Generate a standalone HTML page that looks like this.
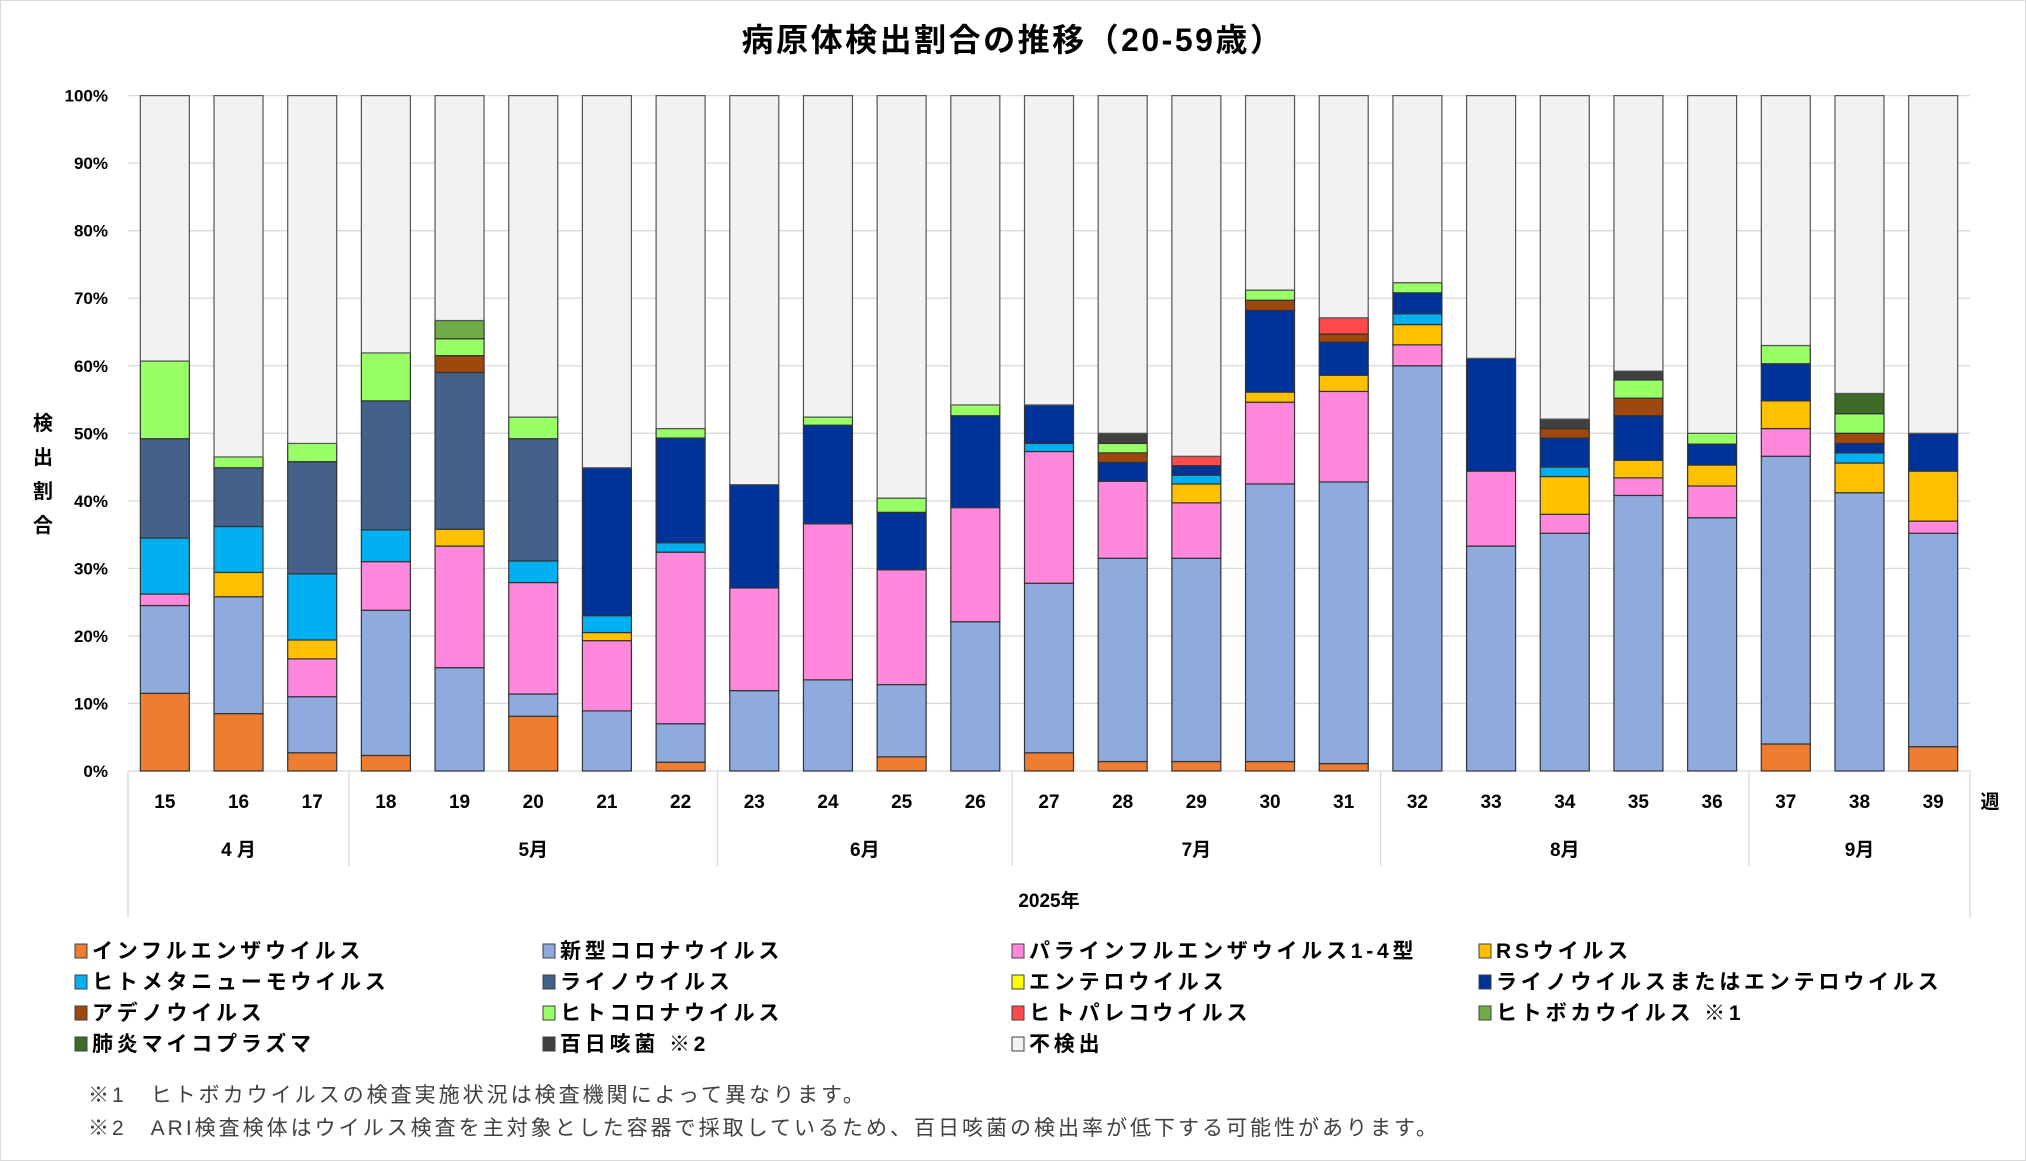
<!DOCTYPE html>
<html><head><meta charset="utf-8">
<style>
html,body{margin:0;padding:0;background:#fff;}
svg{display:block;font-family:"Liberation Sans","Noto Sans CJK JP",sans-serif;}
</style></head><body>
<svg id="c" width="2026" height="1161" viewBox="0 0 2026 1161" xmlns="http://www.w3.org/2000/svg">
<rect x="0.5" y="0.5" width="2025" height="1160" fill="#fff" stroke="#d9d9d9"/>
<text x="1013" y="51" font-size="32" font-weight="bold" text-anchor="middle" letter-spacing="2.5" fill="#000">病原体検出割合の推移（20-59歳）</text>
<g font-size="20" font-weight="bold" fill="#000" text-anchor="middle">
<text x="43" y="430">検</text><text x="43" y="464">出</text><text x="43" y="498">割</text><text x="43" y="532">合</text>
</g>
<g id="g"></g>
</svg>
<script>
const S="http://www.w3.org/2000/svg",g=document.getElementById('g');
function el(t,a,txt){const e=document.createElementNS(S,t);for(const k in a)e.setAttribute(k,a[k]);if(txt!==undefined)e.textContent=txt;g.appendChild(e);return e;}
const L=128,R=1970,T=95.6,B=771,H=B-T,cw=(R-L)/25,bw=49;
for(let i=0;i<=10;i++){const y=B-H*i/10;el('line',{x1:L,x2:R,y1:y,y2:y,stroke:'#d9d9d9','stroke-width':1.3});
el('text',{x:108,y:y+6,'font-size':17,'font-weight':'bold','text-anchor':'end'},i*10+'%');}
const C=['#ED7D31','#8FAADC','#FF88DD','#FFC000','#00B0F0','#44618B','#FFFF00','#003399','#9E480E','#99FF66','#FF4B4B','#70AD47','#3E6B2A','#404040'];
const D={15:{0:11.5,1:24.5,2:26.2,4:34.5,5:49.2,9:60.7},16:{0:8.5,1:25.8,3:29.4,4:36.2,5:44.9,9:46.5},17:{0:2.7,1:11,2:16.6,3:19.4,4:29.2,5:45.8,9:48.5},
18:{0:2.3,1:23.8,2:31,4:35.7,5:54.8,9:61.9},19:{1:15.3,2:33.3,3:35.8,5:59,8:61.5,9:64,11:66.7},20:{0:8.1,1:11.4,2:27.9,4:31.1,5:49.2,9:52.4},
21:{1:8.9,2:19.3,3:20.5,4:23,7:44.9},22:{0:1.3,1:7,2:32.4,4:33.8,7:49.3,9:50.7},23:{1:11.9,2:27.1,7:42.4},24:{1:13.5,2:36.6,7:51.2,9:52.4},
25:{0:2.1,1:12.8,2:29.8,7:38.3,9:40.4},26:{1:22.1,2:39,7:52.6,9:54.2},27:{0:2.7,1:27.8,2:47.3,4:48.5,7:54.2},
28:{0:1.4,1:31.5,2:42.9,7:45.7,8:47.1,9:48.5,13:50},29:{0:1.4,1:31.5,2:39.7,3:42.5,4:43.8,7:45.2,10:46.6},
30:{0:1.4,1:42.5,2:54.6,3:56.1,7:68.2,8:69.7,9:71.2},31:{0:1.1,1:42.8,2:56.2,3:58.6,7:63.5,8:64.7,10:67.1},
32:{1:60,2:63.1,3:66.1,4:67.7,7:70.8,9:72.3},33:{1:33.3,2:44.4,7:61.1},34:{1:35.2,2:38,3:43.6,4:45,7:49.3,8:50.7,13:52.1},
35:{1:40.8,2:43.4,3:46,7:52.6,8:55.2,9:57.9,13:59.2},36:{1:37.5,2:42.2,3:45.3,7:48.4,9:50},37:{0:4,1:46.6,2:50.7,3:54.8,7:60.3,9:63},
38:{1:41.2,3:45.6,4:47.1,7:48.5,8:50,9:52.9,12:55.9},39:{0:3.6,1:35.2,2:37,3:44.4,7:50}};
const yv=v=>B-H*v/100;
for(let w=15;w<=39;w++){const i=w-15,cx=L+cw*(i+.5),x=cx-bw/2;let prev=0;
 const d=D[w];Object.keys(d).map(Number).sort((a,b)=>a-b).forEach(k=>{const v=d[k];
  el('rect',{x:x,y:yv(v),width:bw,height:yv(prev)-yv(v),fill:C[k],stroke:'#333','stroke-width':1.2});prev=v;});
 el('rect',{x:x,y:T,width:bw,height:yv(prev)-T,fill:'#F2F2F2',stroke:'#555','stroke-width':1.2});
 el('text',{x:cx,y:808,'font-size':19,'font-weight':'bold','text-anchor':'middle'},w);}
el('text',{x:1990,y:808,'font-size':19,'font-weight':'bold','text-anchor':'middle'},'週');
[0,3,8,12,17,22,25].forEach(i=>{const x=L+cw*i;const outer=(i==0||i==25);el('line',{x1:x,x2:x,y1:B,y2:outer?918:866,stroke:'#d9d9d9','stroke-width':1.3});});
const M=[['4 月',0,3],['5月',3,8],['6月',8,12],['7月',12,17],['8月',17,22],['9月',22,25]];
M.forEach(m=>el('text',{x:L+cw*(m[1]+m[2])/2,y:856,'font-size':19,'font-weight':'bold','text-anchor':'middle'},m[0]));
el('text',{x:1049,y:907,'font-size':19,'font-weight':'bold','text-anchor':'middle'},'2025年');
const LG=[['インフルエンザウイルス',0],['新型コロナウイルス',1],['パラインフルエンザウイルス1-4型',2],['RSウイルス',3],
['ヒトメタニューモウイルス',4],['ライノウイルス',5],['エンテロウイルス',6],['ライノウイルスまたはエンテロウイルス',7],
['アデノウイルス',8],['ヒトコロナウイルス',9],['ヒトパレコウイルス',10],['ヒトボカウイルス ※1',11],
['肺炎マイコプラズマ',12],['百日咳菌 ※2',13],['不検出',14]];
const cols=[75,543,1012,1479],rows=[958,989,1020,1051];
LG.forEach((l,i)=>{const x=cols[i%4],y=rows[Math.floor(i/4)];
 el('rect',{x:x,y:y-14,width:12,height:14,fill:l[1]==14?'#F2F2F2':C[l[1]],stroke:'#404040','stroke-width':1});
 el('text',{x:x+17,y:y,'font-size':21,'font-weight':'bold','letter-spacing':'3.8'},l[0]);});
el('text',{x:88,y:1102,'font-size':21,fill:'#404040','letter-spacing':'3'},'※1　ヒトボカウイルスの検査実施状況は検査機関によって異なります。');
el('text',{x:88,y:1135,'font-size':21,fill:'#404040','letter-spacing':'3'},'※2　ARI検査検体はウイルス検査を主対象とした容器で採取しているため、百日咳菌の検出率が低下する可能性があります。');
</script>
</body></html>
